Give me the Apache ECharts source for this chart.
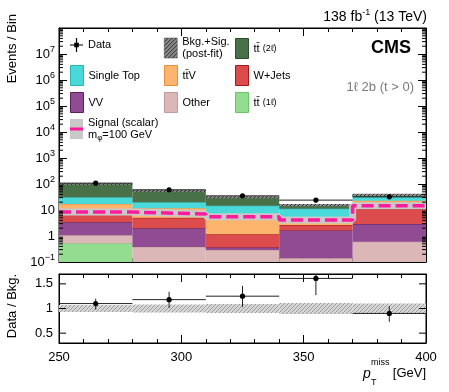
<!DOCTYPE html>
<html>
<head>
<meta charset="utf-8">
<script src="https://cdn.jsdelivr.net/npm/echarts@6/dist/echarts.min.js"></script>
<style>html,body{margin:0;padding:0;background:#fff}#chart{width:449px;height:392px}</style>
</head>
<body>
<div id="chart"></div>
<script>
// bin edges, pT miss [GeV]
var binEdges = [250, 280, 310, 340, 370, 400];

// background stack, bottom to top (events / bin)
var ttbar1l   = [0.52, 0, 0, 0, 0];
var other     = [0.55, 0.38, 0.29, 0.14, 0.6];
var vv        = [2.3, 1.6, 0.07, 1.5, 2.3];
var wjets     = [5.7, 3.0, 0.8, 1.0, 8.1];
var ttv       = [7.9, 6.8, 3.2, 1.15, 11.5];
var singleTop = [14, 8.2, 10.2, 7.4, 9.5];
var ttbar2l   = [69, 35, 16.4, 4.3, 6];
var bkgUnc    = [0.06, 0.08, 0.09, 0.11, 0.10]; // relative

var signal    = [8.3, 7.0, 5.5, 4.1, 14.6];
var dataY     = [108, 60, 35, 24, 32];
var dataErr   = [10.4, 7.7, 5.9, 4.9, 5.7];

// lower panel
var ratio     = [1.10, 1.18, 1.25, 1.61, 0.90];
var ratioLo   = [0.98, 1.01, 1.03, 1.27, 0.73];
var ratioHi   = [1.20, 1.34, 1.46, 1.95, 1.05];
var ratioBand = [0.07, 0.08, 0.09, 0.11, 0.10];

var fontFam = '"Liberation Sans", Arial, Helvetica, sans-serif';

function hatch(bg, fg, step) {
  var c = document.createElement('canvas');
  c.width = step; c.height = step;
  var g = c.getContext('2d');
  if (bg) { g.fillStyle = bg; g.fillRect(0, 0, step, step); }
  g.strokeStyle = fg; g.lineWidth = 1;
  g.beginPath();
  g.moveTo(0, step); g.lineTo(step, 0);
  g.moveTo(-2, 2); g.lineTo(2, -2);
  g.moveTo(step - 2, step + 2); g.lineTo(step + 2, step - 2);
  g.stroke();
  return c;
}
var hatchMain = { image: hatch('#8a8a8a', '#2a2a2a', 4), repeat: 'repeat' };
var hatchRatio = { image: hatch('#d6d6d6', '#9c9c9c', 4), repeat: 'repeat' };

var layers = [
  { name: 'tt1l',  vals: ttbar1l,   fill: '#92dd8f', line: '#6cc468' },
  { name: 'Other', vals: other,     fill: '#dbb7b7', line: '#c49b9b' },
  { name: 'VV',    vals: vv,        fill: '#904b92', line: '#5c1f63' },
  { name: 'W+Jets', vals: wjets,    fill: '#dd4c4c', line: '#a31a1a' },
  { name: 'ttV',   vals: ttv,       fill: '#fdb46d', line: '#e98f3c' },
  { name: 'Single Top', vals: singleTop, fill: '#4ad9d9', line: '#2ab4b4' },
  { name: 'tt2l',  vals: ttbar2l,   fill: '#487148', line: '#2d4d2d' }
];

var series = [];
var below = [0, 0, 0, 0, 0];
layers.forEach(function (L) {
  var rows = L.vals.map(function (v, i) {
    return [binEdges[i], binEdges[i + 1], below[i], below[i] + v];
  });
  below = below.map(function (b, i) { return b + L.vals[i]; });
  series.push({
    name: L.name, type: 'custom', xAxisIndex: 0, yAxisIndex: 0, z: 2,
    itemStyle: { color: L.fill, borderColor: L.line },
    encode: { x: [0, 1], y: [2, 3] },
    data: rows,
    clip: true,
    renderItem: function (params, api) {
      var lo = Math.max(api.value(2), 0.1), hi = api.value(3);
      if (hi <= lo) return null;
      var p0 = api.coord([api.value(0), hi]);
      var p1 = api.coord([api.value(1), lo]);
      return { type: 'group', children: [
        { type: 'rect', shape: { x: p0[0], y: p0[1], width: p1[0] - p0[0], height: p1[1] - p0[1] }, style: { fill: L.fill } },
        { type: 'line', shape: { x1: p0[0], y1: p0[1], x2: p1[0], y2: p0[1] }, style: { stroke: L.line, lineWidth: 1 } }
      ] };
    }
  });
});
var total = below;

// uncertainty band on top of the stack
series.push({
  name: 'Bkg', type: 'custom', xAxisIndex: 0, yAxisIndex: 0, z: 3,
  itemStyle: { color: '#555' },
  data: total.map(function (t, i) { return [binEdges[i], binEdges[i + 1], t * (1 - bkgUnc[i]), t * (1 + bkgUnc[i])]; }),
  clip: true,
  renderItem: function (params, api) {
    var p0 = api.coord([api.value(0), api.value(3)]);
    var p1 = api.coord([api.value(1), api.value(2)]);
    return { type: 'rect', shape: { x: p0[0], y: p0[1], width: p1[0] - p0[0], height: p1[1] - p0[1] }, style: { fill: hatchMain } };
  }
});

// signal, step line
var sigPts = signal.map(function (v, i) { return [binEdges[i], v]; }).concat([[binEdges[5], signal[4]]]);
series.push({
  name: 'Signal', type: 'line', step: 'end', xAxisIndex: 0, yAxisIndex: 0, z: 4,
  showSymbol: false, symbol: 'none', data: sigPts, itemStyle: { color: '#c8c8c8' },
  lineStyle: { color: '#c8c8c8', width: 7 }
});
series.push({
  name: 'SignalLine', type: 'line', step: 'end', xAxisIndex: 0, yAxisIndex: 0, z: 5,
  showSymbol: false, symbol: 'none', data: sigPts,
  lineStyle: { color: '#ff1c9c', width: 3.5, type: [12, 5] }
});

function errRender(params, api) {
  var x0 = api.value(0), x1 = api.value(1), y = api.value(2), lo = api.value(3), hi = api.value(4);
  var xc = (x0 + x1) / 2;
  var a = api.coord([x0, y]), b = api.coord([x1, y]), c = api.coord([xc, y]);
  var t = api.coord([xc, hi]), u = api.coord([xc, lo]);
  return { type: 'group', children: [
    { type: 'line', shape: { x1: a[0], y1: a[1], x2: b[0], y2: b[1] }, style: { stroke: '#222', lineWidth: 1 } },
    { type: 'line', shape: { x1: t[0], y1: t[1], x2: u[0], y2: u[1] }, style: { stroke: '#222', lineWidth: 1 } },
    { type: 'circle', shape: { cx: c[0], cy: c[1], r: 2.6 }, style: { fill: '#000' } }
  ] };
}

series.push({
  name: 'Data', type: 'custom', xAxisIndex: 0, yAxisIndex: 0, z: 6,
  itemStyle: { color: '#000' }, clip: true,
  data: dataY.map(function (d, i) { return [binEdges[i], binEdges[i + 1], d, d - dataErr[i], d + dataErr[i]]; }),
  renderItem: errRender
});

// minor ticks of the log axis (left and right frame)
var minorVals = [];
for (var k = -1; k < 8; k++) for (var m = 2; m <= 9; m++) minorVals.push([m * Math.pow(10, k)]);
series.push({
  name: 'minorTicks', type: 'custom', xAxisIndex: 0, yAxisIndex: 0, z: 10, silent: true,
  data: minorVals, encode: { y: 0 },
  renderItem: function (params, api) {
    var l = api.coord([250, api.value(0)]), r = api.coord([400, api.value(0)]);
    return { type: 'group', children: [
      { type: 'line', shape: { x1: l[0], y1: l[1], x2: l[0] + 4, y2: l[1] }, style: { stroke: '#000', lineWidth: 1 } },
      { type: 'line', shape: { x1: r[0], y1: r[1], x2: r[0] - 4, y2: r[1] }, style: { stroke: '#000', lineWidth: 1 } }
    ] };
  }
});

// ratio panel
series.push({
  name: 'ratioBand', type: 'custom', xAxisIndex: 2, yAxisIndex: 2, z: 2, clip: true,
  data: ratioBand.map(function (u, i) { return [binEdges[i], binEdges[i + 1], 1 - u, 1 + u]; }),
  renderItem: function (params, api) {
    var p0 = api.coord([api.value(0), api.value(3)]);
    var p1 = api.coord([api.value(1), api.value(2)]);
    return { type: 'rect', shape: { x: p0[0], y: p0[1], width: p1[0] - p0[0], height: p1[1] - p0[1] }, style: { fill: hatchRatio } };
  }
});
series.push({
  name: 'ratio', type: 'custom', xAxisIndex: 2, yAxisIndex: 2, z: 6, clip: true,
  data: ratio.map(function (r, i) { return [binEdges[i], binEdges[i + 1], r, ratioLo[i], ratioHi[i]]; }),
  renderItem: errRender
});
series.push({
  name: 'ratioTicks', type: 'custom', xAxisIndex: 2, yAxisIndex: 2, z: 10, silent: true,
  data: [[0.5], [1], [1.5]], encode: { y: 0 },
  renderItem: function (params, api) {
    var l = api.coord([250, api.value(0)]), r = api.coord([400, api.value(0)]);
    return { type: 'group', children: [
      { type: 'line', shape: { x1: l[0], y1: l[1], x2: l[0] + 7, y2: l[1] }, style: { stroke: '#000', lineWidth: 1 } },
      { type: 'line', shape: { x1: r[0], y1: r[1], x2: r[0] - 7, y2: r[1] }, style: { stroke: '#000', lineWidth: 1 } }
    ] };
  }
});

var tickLabel = { fontFamily: fontFam, fontSize: 13, color: '#000' };
function xAx(grid, pos, labels) {
  return {
    type: 'value', gridIndex: grid, position: pos, min: 250, max: 400, interval: 50,
    axisLine: { show: true, onZero: false, lineStyle: { color: '#000', width: 1 } },
    axisTick: { show: true, inside: true, length: 8, lineStyle: { color: '#000' } },
    minorTick: { show: true, splitNumber: 5, length: 4, lineStyle: { color: '#000' } },
    splitLine: { show: false },
    axisLabel: labels ? Object.assign({ show: true, margin: 8 }, tickLabel) : { show: false }
  };
}
function logAx(pos, labels) {
  return {
    type: 'log', logBase: 10, gridIndex: 0, position: pos, min: 0.1, max: 1e8,
    axisLine: { show: true, onZero: false, lineStyle: { color: '#000', width: 1 } },
    axisTick: { show: true, inside: true, length: 8, lineStyle: { color: '#000' } },
    splitLine: { show: false },
    axisLabel: labels ? Object.assign({
      show: true, margin: 4, showMaxLabel: false,
      formatter: function (v) {
        var k = Math.round(Math.log(v) / Math.LN10);
        if (k >= 8) return '';
        if (k === 0) return '1';
        if (k === 1) return '10';
        return '10{sup|' + (k < 0 ? '\u2212' + (-k) : k) + '}';
      },
      rich: { sup: { fontFamily: fontFam, fontSize: 9, color: '#000', padding: [0, 0, 8, 0] } }
    }, tickLabel) : { show: false }
  };
}
function ratioAx(pos, labels) {
  return {
    type: 'value', gridIndex: 1, position: pos, min: 0.3, max: 1.7, interval: 0.1,
    axisLine: { show: true, onZero: false, lineStyle: { color: '#000', width: 1 } },
    axisTick: { show: false },
    splitLine: { show: false },
    axisLabel: labels ? Object.assign({
      show: true, margin: 6, showMinLabel: false, showMaxLabel: false,
      formatter: function (v) {
        var r = Math.round(v * 10) / 10;
        if (r === 0.5) return '0.5';
        if (r === 1) return '1';
        if (r === 1.5) return '1.5';
        return '';
      }
    }, tickLabel) : { show: false }
  };
}

var legendText = {
  'Data': 'Data',
  'Bkg': 'Bkg.+Sig.\n(post-fit)',
  'tt2l': 'tt\u0304 {s|(2\u2113)}',
  'Single Top': 'Single Top',
  'ttV': 'tt\u0304V',
  'W+Jets': 'W+Jets',
  'VV': 'VV',
  'Other': 'Other',
  'tt1l': 'tt\u0304 {s|(1\u2113)}',
  'Signal': 'Signal (scalar)\nm{sub|\u03c6}=100 GeV'
};
function cell(name, x, yc, icon, style, h) {
  return {
    left: x, top: yc - (h || 20) / 2, orient: 'vertical', padding: 0, itemGap: 0,
    itemWidth: 13, itemHeight: 20, selectedMode: false,
    data: [{ name: name, icon: icon, itemStyle: style }],
    formatter: function (n) { return legendText[n]; },
    textStyle: {
      fontFamily: fontFam, fontSize: 11, color: '#000', lineHeight: 12,
      rich: {
        s: { fontFamily: fontFam, fontSize: 9, color: '#000' },
        sub: { fontFamily: fontFam, fontSize: 8, color: '#000', padding: [6, 0, 0, 0] }
      }
    }
  };
}
// cross with a filled dot, all sub-paths clockwise
var dataIcon = 'path://M0,9.4h13v1.2h-13z M5.9,3h1.2v14h-1.2z M4.2,7.7h4.6v4.6h-4.6z';
function boxStyle(L) { return { color: L.fill, borderColor: L.line, borderWidth: 1 }; }
var byName = {};
layers.forEach(function (L) { byName[L.name] = L; });

var legends = [
  cell('Data', 70, 48, dataIcon, { color: '#000' }),
  cell('Bkg', 164, 48, 'rect', { color: hatchMain, borderColor: '#444', borderWidth: 0.5 }, 24),
  cell('tt2l', 235, 48, 'rect', boxStyle(byName['tt2l'])),
  cell('Single Top', 70, 75, 'rect', boxStyle(byName['Single Top'])),
  cell('ttV', 164, 75, 'rect', boxStyle(byName['ttV'])),
  cell('W+Jets', 235, 75, 'rect', boxStyle(byName['W+Jets'])),
  cell('VV', 70, 102, 'rect', boxStyle(byName['VV'])),
  cell('Other', 164, 102, 'rect', boxStyle(byName['Other'])),
  cell('tt1l', 235, 102, 'rect', boxStyle(byName['tt1l'])),
  cell('Signal', 70, 129, 'rect', { color: '#c8c8c8' }, 24)
];

var option = {
  animation: false,
  backgroundColor: '#fff',
  textStyle: { fontFamily: fontFam },
  grid: [
    { left: 59, top: 28, width: 367, height: 234, show: true, borderColor: '#000', borderWidth: 1, backgroundColor: 'transparent' },
    { left: 59, top: 274, width: 367, height: 69, show: true, borderColor: '#000', borderWidth: 1, backgroundColor: 'transparent' }
  ],
  xAxis: [xAx(0, 'bottom', false), xAx(0, 'top', false), xAx(1, 'bottom', true), xAx(1, 'top', false)],
  yAxis: [logAx('left', true), logAx('right', false), ratioAx('left', true), ratioAx('right', false)],
  legend: legends,
  graphic: [
    { type: 'rect', shape: { x: 70, y: 127.5, width: 13, height: 3 }, style: { fill: '#ff1c9c' }, z: 100 },
    { type: 'text', x: 427, y: 17, style: { text: '138 fb{sup|-1} (13 TeV)', align: 'right', verticalAlign: 'middle', fontFamily: fontFam, fontSize: 14, fill: '#000',
      rich: { sup: { fontFamily: fontFam, fontSize: 9, fill: '#000', padding: [0, 0, 8, 0] } } } },
    { type: 'text', x: 411, y: 48, style: { text: 'CMS', align: 'right', verticalAlign: 'middle', fontFamily: fontFam, fontSize: 18, fontWeight: 'bold', fill: '#000' } },
    { type: 'text', x: 414, y: 87, style: { text: '1\u2113 2b (t > 0)', align: 'right', verticalAlign: 'middle', fontFamily: fontFam, fontSize: 13, fill: '#7a7a7a' } },
    { type: 'text', x: 12, y: 14, rotation: Math.PI / 2, style: { text: 'Events / Bin', align: 'right', verticalAlign: 'middle', fontFamily: fontFam, fontSize: 13, fill: '#000' } },
    { type: 'text', x: 12, y: 306, rotation: Math.PI / 2, style: { text: 'Data / Bkg.', align: 'center', verticalAlign: 'middle', fontFamily: fontFam, fontSize: 13, fill: '#000' } },
    { type: 'text', x: 363, y: 374, style: { text: 'p', verticalAlign: 'middle', fontFamily: fontFam, fontSize: 14, fontStyle: 'italic', fill: '#000' } },
    { type: 'text', x: 371, y: 363, style: { text: 'miss', verticalAlign: 'middle', fontFamily: fontFam, fontSize: 9, fill: '#000' } },
    { type: 'text', x: 371, y: 383, style: { text: 'T', verticalAlign: 'middle', fontFamily: fontFam, fontSize: 9, fill: '#000' } },
    { type: 'text', x: 426, y: 373, style: { text: '[GeV]', align: 'right', verticalAlign: 'middle', fontFamily: fontFam, fontSize: 13, fill: '#000' } }
  ],
  series: series
};

var chart = echarts.init(document.getElementById('chart'));
chart.setOption(option);
</script>
</body>
</html>
